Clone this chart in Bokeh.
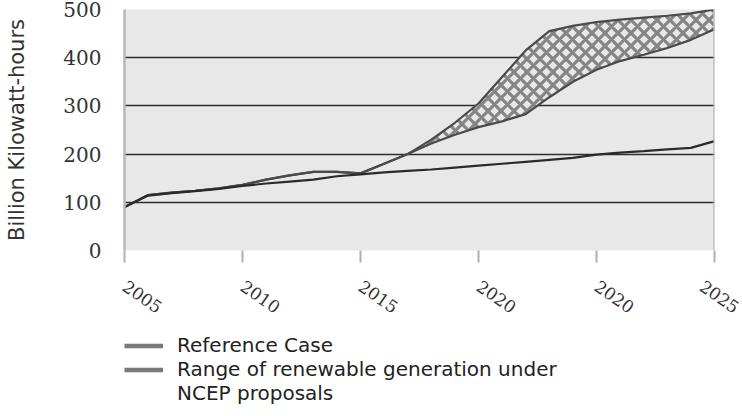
import numpy as np
from bokeh.plotting import figure
from bokeh.layouts import column
from bokeh.models import (Range1d, Legend, LegendItem, FixedTicker, Span,
                          ColumnDataSource)
from bokeh.embed import file_html
from bokeh.resources import INLINE

years = list(range(2005, 2031))
reference_case = [90, 114, 119, 123, 128, 134, 139, 143, 147, 154, 158, 162, 165,
                  168, 172, 176, 180, 184, 188, 192, 199, 203, 206, 210, 213, 227]
renew_high = [90, 115, 120, 124, 129, 136, 147, 156, 163, 163, 160, 180, 200,
              230, 265, 305, 360, 415, 455, 466, 474, 479, 483, 487, 492, 500]
renew_low = [90, 115, 120, 124, 129, 136, 147, 156, 163, 163, 160, 180, 200,
             222, 240, 256, 268, 283, 318, 350, 375, 393, 406, 420, 437, 459]
tick_years = [2005, 2010, 2015, 2020, 2025, 2030]
tick_labels = ["2005", "2010", "2015", "2020", "2020", "2025"]
y_ticks = [0, 100, 200, 300, 400, 500]
legend_labels = ["Reference Case", "Range of renewable generation under",
                 "NCEP proposals"]

src = ColumnDataSource(dict(x=years, ref=reference_case, hi=renew_high, lo=renew_low))

p = figure(width=740, height=330, output_backend="svg", toolbar_location=None,
           x_range=Range1d(years[0], years[-1]), y_range=Range1d(0, 500),
           min_border_left=124, min_border_right=26, min_border_top=9,
           min_border_bottom=80)
p.background_fill_color = "#e8e8e8"
p.border_fill_color = "white"
p.outline_line_color = None

# band
p.varea(x="x", y1="lo", y2="hi", source=src, fill_color="#e8e8e8", fill_alpha=1,
        hatch_pattern="x", hatch_color="#858585", hatch_weight=3.2, hatch_scale=13)
p.line(x="x", y="hi", source=src, line_color="#4a4a4a", line_width=2.2)
p.line(x="x", y="lo", source=src, line_color="#4a4a4a", line_width=2.2)
p.line(x="x", y="ref", source=src, line_color="#2a2a2a", line_width=2.2)

# grid
p.xgrid.grid_line_color = None
p.ygrid.ticker = FixedTicker(ticks=y_ticks)
p.ygrid.grid_line_color = "#2e2e2e"
p.ygrid.grid_line_width = 1.5

# right border
p.add_layout(Span(location=years[-1], dimension="height",
                  line_color="#b8b8b8", line_width=2.5))

# x axis
xa = p.xaxis[0]
xa.ticker = FixedTicker(ticks=tick_years)
xa.major_label_overrides = {y: l for y, l in zip(tick_years, tick_labels)}
xa.axis_line_color = None
xa.major_tick_line_color = "#b0b0b0"
xa.major_tick_line_width = 2
xa.major_tick_in = 0
xa.major_tick_out = 12
xa.minor_tick_line_color = None
xa.major_label_orientation = -0.61
xa.major_label_text_font = "DejaVu Serif"
xa.major_label_text_font_size = "17px"
xa.major_label_text_color = "#333333"
xa.major_label_standoff = 22

# y axis
ya = p.yaxis[0]
ya.ticker = FixedTicker(ticks=y_ticks)
ya.axis_line_color = "#b8b8b8"
ya.axis_line_width = 2.5
ya.major_tick_line_color = None
ya.minor_tick_line_color = None
ya.major_label_text_font = "DejaVu Serif"
ya.major_label_text_font_size = "20px"
ya.major_label_text_color = "#333333"
ya.major_label_standoff = 17
ya.axis_label = "Billion Kilowatt-hours"
ya.axis_label_text_font = "DejaVu Sans"
ya.axis_label_text_font_style = "normal"
ya.axis_label_text_font_size = "21px"
ya.axis_label_text_color = "#333333"
ya.axis_label_standoff = 31

# legend figure
lf = figure(width=740, height=84, output_backend="svg", toolbar_location=None,
            x_range=Range1d(0, 1), y_range=Range1d(0, 1),
            x_axis_type=None, y_axis_type=None,
            min_border_left=122, min_border_right=0, min_border_top=3,
            min_border_bottom=0)
lf.outline_line_color = None
lf.background_fill_color = "white"
lf.border_fill_color = "white"
lf.xgrid.grid_line_color = None
lf.ygrid.grid_line_color = None
l1 = lf.line(x="x", y="ref", source=src, line_color="#7a7a7a", line_width=4.5)
l2 = lf.line(x="x", y="hi", source=src, line_color="#7a7a7a", line_width=4.5)
l3 = lf.line(x="x", y="lo", source=src, line_color="#7a7a7a", line_alpha=0)

legend = Legend(items=[LegendItem(label=legend_labels[0], renderers=[l1]),
                       LegendItem(label=legend_labels[1], renderers=[l2]),
                       LegendItem(label=legend_labels[2], renderers=[l3])],
                location="top_left", orientation="vertical")
legend.border_line_color = None
legend.background_fill_alpha = 0
legend.label_text_font = "DejaVu Sans"
legend.label_text_font_size = "20px"
legend.label_text_color = "#222222"
legend.glyph_width = 39
legend.glyph_height = 23
legend.label_height = 23
legend.label_standoff = 14
legend.spacing = 0
legend.padding = 0
legend.margin = 0
lf.add_layout(legend, "center")

open("out.html", "w").write(file_html(column(p, lf), INLINE))
